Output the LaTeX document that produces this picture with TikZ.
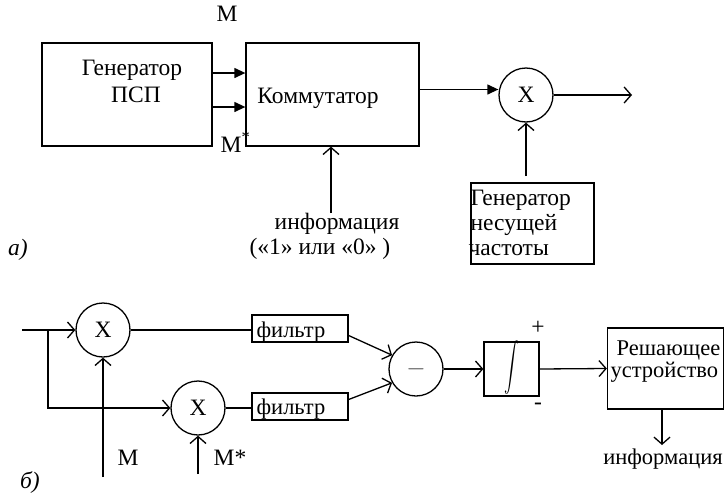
\documentclass[tikz,border=0pt]{standalone}
\usepackage{fontspec}
\usepackage{graphicx}
\setmainfont{Liberation Serif}
\newfontfamily\tnr{Liberation Serif}
\usetikzlibrary{arrows.meta}
\begin{document}
\begin{tikzpicture}[x=1pt,y=-1pt,
  every node/.style={font=\tnr\fontsize{23.5}{27}\selectfont, inner sep=0pt},
  small/.style={font=\tnr\fontsize{22.5}{26}\selectfont},
  line width=1.3pt,
  blk/.style={draw, rectangle, line width=1.3pt},
  mult/.style={draw, circle, minimum size=54pt, line width=1.3pt},
  tri/.style={-{Triangle[length=11pt,width=10pt]}},
  barb/.style={-{Straight Barb[length=7pt,width=16pt,line width=1.3pt]}},
  txt/.style={anchor=base},
  txtl/.style={anchor=base west, align=left}
]
\useasboundingbox (0,0) rectangle (724,496);

% ---------- a) ----------
\node[blk, minimum width=170pt, minimum height=103pt] (gen) at (127,94.5) {};
\node[txt] (gent1) at (132,75) {Генератор};
\node[txt] (gent2) at (136,102) {ПСП};
\node[blk, minimum width=173pt, minimum height=103pt] (comm) at (332.5,94.5) {};
\node[txt] (commt) at (318,103) {Коммутатор};
\node[txt] (mtop) at (227,21) {M};
\node[txtl] (mstar) at (220,152) {M\textsuperscript{*}};

\draw[tri] ([yshift=21.5pt]gen.east) -- ([yshift=21.5pt]comm.west);
\draw[tri] ([yshift=-12.5pt]gen.east) -- ([yshift=-12.5pt]comm.west);

\node[mult] (c1) at (526,95) {X};
\draw[tri] ([yshift=5pt]comm.east) -- ([yshift=5pt]comm.east -| c1.west);
\coordinate (out) at (632,95);
\draw[barb] (c1.east) -- (out);

\node[blk, minimum width=123pt, minimum height=81pt] (carr) at (532.5,223.5) {};
\node[txtl] (carrt1) at (470,205) {Генератор};
\node[txtl] (carrt2) at (470,230) {несущей};
\node[txtl] (carrt3) at (468,255) {частоты};
\coordinate (cg) at (526,176);
\draw[barb] (cg) -- (c1.south);

\coordinate (info) at (331,213);
\draw[barb] (info) -- (info |- comm.south);
\node[txt] (infot1) at (337,229) {информация};
\node[txt] (infot2) at (320,254) {(«1» или «0» )};
\node[txt] (la) at (18,255) {\itshape а)};

% ---------- b) ----------
\coordinate (in) at (22,330);
\coordinate (br) at (48,330);
\node[mult] (m1) at (103,330) {X};
\node[mult] (m2) at (198,408) {X};
\draw[barb] (in) -- (m1.west);
\draw[barb] (br) |- (m2.west);

\node[blk, minimum width=96pt, minimum height=27pt] (f1) at (300,328.5) {};
\node[blk, minimum width=96pt, minimum height=27pt] (f2) at (300,406.5) {};
\node[txtl, small] (f1t) at (256,337) {фильтр};
\node[txtl, small] (f2t) at (256,414) {фильтр};
\draw (m1.east) -- (m1.east -| f1.west);
\draw (m2.east) -- (m2.east -| f2.west);

\coordinate (mb) at (103,477);
\coordinate (msb) at (198,474);
\draw[barb] (mb) -- (m1.south);
\draw[barb] (msb) -- (m2.south);
\node[txt] (mbt) at (128,465) {M};
\node[txtl] (msbt) at (213,465) {M*};
\node[txt] (lb) at (30,488) {\itshape б)};

\node[mult] (sub) at (416,369) {\textcolor{black!70}{$-$}};
\draw[barb] ([yshift=-7pt]f1.east) -- (sub.150);
\draw[barb] ([yshift=7pt]f2.east) -- (sub.210);

\node[blk, minimum width=55pt, minimum height=54pt] (integ) at (511.5,369) {};
\node (integt) at (511.5,367) {\resizebox{15pt}{42pt}{$\displaystyle\int$}};
\draw[barb] (sub.east) -- (integ.west);
\node (plus) at (538,328) {+};
\node (minus) at (538,406) {-};

\node[blk, minimum width=116pt, minimum height=81pt] (dec) at (665.5,368.5) {};
\node[txtl, small] (dect1) at (616,355) {Решающее};
\node[txtl, small] (dect2) at (610,377) {устройство};
\draw[barb] (integ.east) -- (dec.west);
\coordinate (decout) at (662,445);
\draw[barb] (dec.south -| decout) -- (decout);
\node[txt, small] (dect3) at (663,464) {информация};
\end{tikzpicture}
\end{document}
